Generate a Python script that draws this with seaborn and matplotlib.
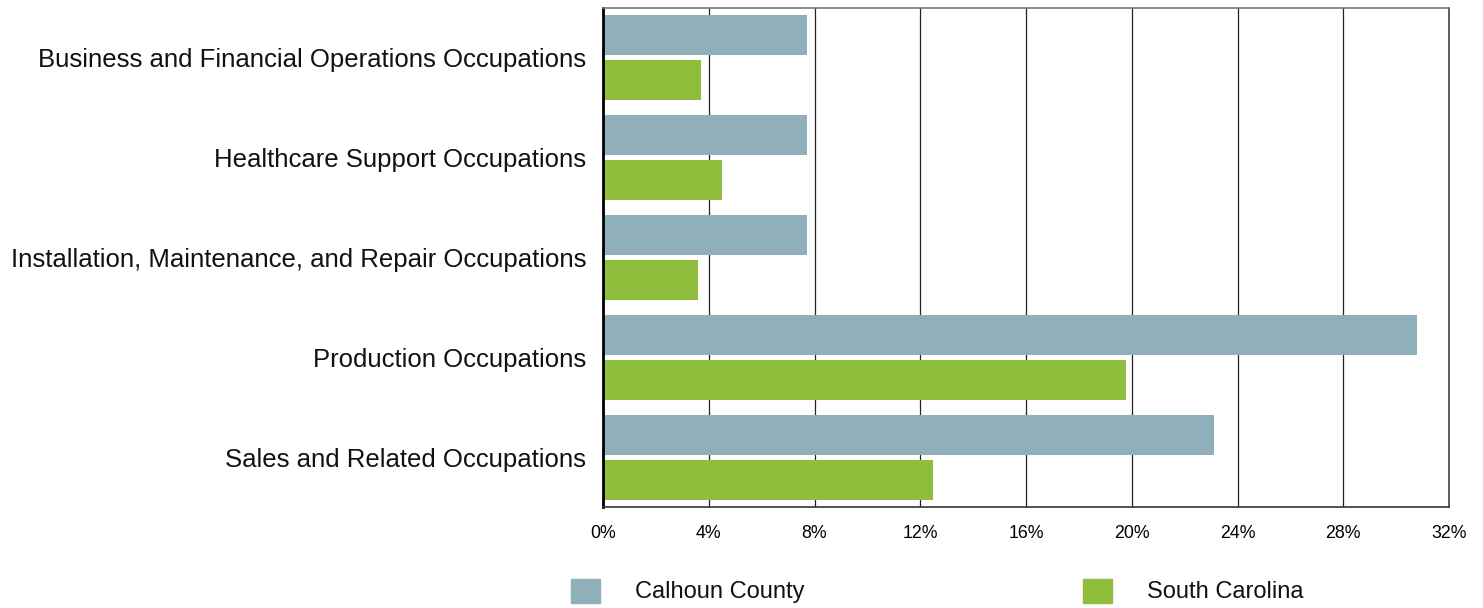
import matplotlib
matplotlib.use("Agg")
import matplotlib.pyplot as plt
from matplotlib.patches import Patch
from matplotlib.ticker import FuncFormatter
import seaborn as sns
import pandas as pd

categories = [
    "Business and Financial Operations Occupations",
    "Healthcare Support Occupations",
    "Installation, Maintenance, and Repair Occupations",
    "Production Occupations",
    "Sales and Related Occupations",
]
series_names = ["Calhoun County", "South Carolina"]
calhoun = [7.7, 7.7, 7.7, 30.8, 23.1]
south_carolina = [3.7, 4.5, 3.6, 19.8, 12.5]
colors = ["#8FAFBA", "#8FBE3D"]
x_ticks = [0, 4, 8, 12, 16, 20, 24, 28, 32]

rows = []
for c, v in zip(categories, calhoun):
    rows.append({"cat": c, "series": series_names[0], "val": v})
for c, v in zip(categories, south_carolina):
    rows.append({"cat": c, "series": series_names[1], "val": v})
df = pd.DataFrame(rows)

sns.set_style("white")
plt.rcParams["font.family"] = ["Liberation Sans", "DejaVu Sans"]

fig = plt.figure(figsize=(14.83, 6.08), dpi=100)
ax = fig.add_axes([603/1483, 1-507/608, (1449-603)/1483, (507-8)/608])

sns.barplot(data=df, y="cat", x="val", hue="series", order=categories,
            hue_order=series_names, palette=colors, orient="h",
            width=0.9, gap=0.11, errorbar=None, ax=ax, legend=False,
            saturation=1, linewidth=0)

ax.set_xlim(0, 32)
ax.set_ylim(len(categories) - 0.5, -0.5)
ax.set_xticks(x_ticks)
ax.xaxis.set_major_formatter(FuncFormatter(lambda v, p: f"{int(v)}%"))
ax.grid(axis="x", color="#222222", linewidth=0.9)
ax.grid(axis="y", visible=False)
ax.set_axisbelow(True)
ax.set_xlabel("")
ax.set_ylabel("")
ax.tick_params(axis="x", labelsize=12.8, length=0, pad=13, colors="#000000")
ax.tick_params(axis="y", labelsize=18.5, length=0, pad=12, colors="#000000")
for lbl in ax.get_yticklabels():
    lbl.set_color("#111111")
ax.spines["left"].set_color("#000000")
ax.spines["left"].set_linewidth(2)
ax.spines["bottom"].set_color("#333333")
ax.spines["bottom"].set_linewidth(1.2)
ax.spines["right"].set_color("#444444")
ax.spines["right"].set_linewidth(1.2)
ax.spines["top"].set_color("#777777")
ax.spines["top"].set_linewidth(1.2)

leg_kw = dict(frameon=False, fontsize=17, handlelength=1.23, handleheight=1.19,
              handletextpad=1.5, borderaxespad=0, borderpad=0, labelcolor="#111111")
fig.legend(handles=[Patch(color=colors[0], label=series_names[0])],
           loc="center left", bbox_to_anchor=(571/1483, 1-591/608), **leg_kw)
fig.legend(handles=[Patch(color=colors[1], label=series_names[1])],
           loc="center left", bbox_to_anchor=(1083/1483, 1-591/608), **leg_kw)

fig.savefig("out.png", dpi=100)
